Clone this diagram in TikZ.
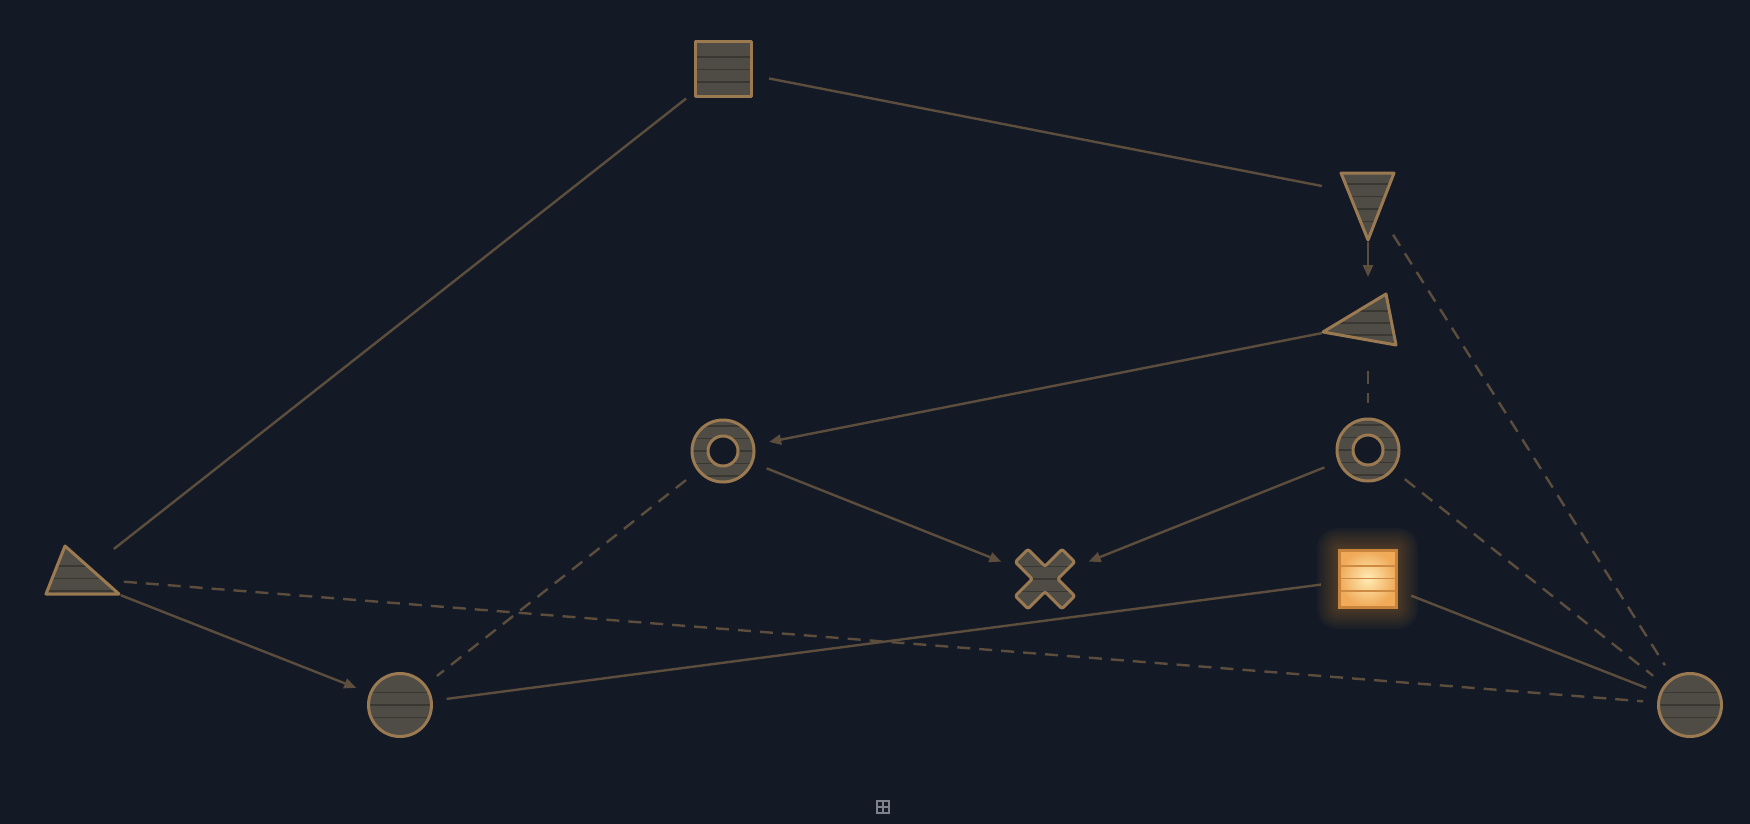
\documentclass[tikz,border=0pt]{standalone}
\usetikzlibrary{arrows.meta}
\definecolor{bg}{HTML}{131A26}
\definecolor{edgec}{HTML}{5C4D3D}
\definecolor{wood}{HTML}{4E4C45}
\definecolor{woodline}{HTML}{393731}
\definecolor{rim}{HTML}{9B7A52}
\definecolor{glowc}{HTML}{F0A040}
\definecolor{glin}{HTML}{FFEBB5}
\definecolor{glout}{HTML}{F0AA58}
\definecolor{glline}{HTML}{CC8A42}
\definecolor{glrim}{HTML}{C8843C}
\definecolor{iconc}{HTML}{7D828C}
\newcommand\planks[4]{\foreach \k in {-#4,...,#4}{\draw[woodline,line width=1.3pt] ({#1-#3},{#2+12.5*\k}) -- ({#1+#3},{#2+12.5*\k});}}
\begin{document}
\begin{tikzpicture}[x=1pt,y=-1pt,
  hit/.style={circle,minimum size=94pt,inner sep=0pt,outer sep=0pt},
  link/.style={draw=edgec,line width=2.4pt},
  dlink/.style={link,dash pattern=on 13pt off 9pt},
  arr/.style={-{Triangle[length=12pt,width=10pt]}},
  rimline/.style={draw=rim,line width=3pt,line join=round}]
\fill[bg] (0,0) rectangle (1750,824);
\useasboundingbox (0,0) rectangle (1750,824);

% hit nodes
\node[hit] (sq) at (723,69.5) {};
\node[hit] (tdown) at (1368,195) {};
\node[hit] (tleft) at (1368,324) {};
\node[hit] (tl) at (77,578) {};
\node[hit] (r1) at (723,451) {};
\node[hit] (r2) at (1368,450) {};
\node[hit] (xx) at (1045,579) {};
\node[hit] (gl) at (1367.5,578.5) {};
\node[hit] (cbl) at (400,705) {};
\node[hit] (cbr) at (1690,705) {};

% connectors
\draw[link] (sq) -- (tl);
\draw[link] (sq) -- (tdown);
\draw[link,arr] (tdown) -- (tleft);
\draw[dlink] (tdown) -- (cbr);
\draw[link,arr] (tleft) -- (r1);
\draw[dlink] (tleft) -- (r2);
\draw[link,arr] (r1) -- (xx);
\draw[link,arr] (r2) -- (xx);
\draw[dlink] (r1) -- (cbl);
\draw[dlink] (r2) -- (cbr);
\draw[link,arr] (tl) -- (cbl);
\draw[dlink] (tl) -- (cbr);
\draw[link] (cbl) -- (gl);
\draw[link] (gl) -- (cbr);

% top square
\begin{scope}
\clip (695,42) rectangle (751,97);
\fill[wood] (695,42) rectangle (751,97);
\planks{723}{69.5}{30}{1}
\end{scope}
\draw[rimline] (695,42) rectangle (751,97);

% down triangle
\begin{scope}
\clip (1341,173) -- (1394,173) -- (1368,240) -- cycle;
\fill[wood] (1335,170) rectangle (1400,245);
\foreach \k in {0,...,3}{\draw[woodline,line width=1.3pt] (1335,{184+12.5*\k}) -- (1400,{184+12.5*\k});}
\end{scope}
\draw[rimline] (1341,173) -- (1394,173) -- (1368,240) -- cycle;

% left-pointing triangle
\begin{scope}
\clip (1323,332) -- (1386,294) -- (1396,345) -- cycle;
\fill[wood] (1320,290) rectangle (1400,350);
\foreach \k in {0,...,2}{\draw[woodline,line width=1.3pt] (1320,{311+12*\k}) -- (1400,{311+12*\k});}
\end{scope}
\draw[rimline] (1323,332) -- (1386,294) -- (1396,345) -- cycle;

% bottom-left triangle
\begin{scope}
\clip (65,546) -- (119,594) -- (46,594) -- cycle;
\fill[wood] (40,540) rectangle (125,600);
\foreach \k in {0,...,2}{\draw[woodline,line width=1.3pt] (40,{566+12.5*\k}) -- (125,{566+12.5*\k});}
\end{scope}
\draw[rimline] (65,546) -- (119,594) -- (46,594) -- cycle;

% rings
\foreach \cx/\cy in {723/451,1368/450}{
\begin{scope}
\clip (\cx,\cy) circle[radius=31];
\fill[wood] (\cx,\cy) circle[radius=31];
\planks{\cx}{\cy}{32}{2}
\end{scope}
\draw[rimline] (\cx,\cy) circle[radius=31];
\fill[bg] (\cx,\cy) circle[radius=15];
\draw[rimline] (\cx,\cy) circle[radius=15];
}

% circles
\foreach \cx/\cy in {400/705,1690/705}{
\begin{scope}
\clip (\cx,\cy) circle[radius=31.5];
\fill[wood] (\cx,\cy) circle[radius=31.5];
\planks{\cx}{\cy}{33}{1}
\end{scope}
\draw[rimline] (\cx,\cy) circle[radius=31.5];
}

% X shape
\begin{scope}
\clip[shift={(1045,579)},rotate=45,rounded corners=2pt]
  (33,9) -- (9,9) -- (9,33) -- (-9,33) -- (-9,9) -- (-33,9) -- (-33,-9) -- (-9,-9) -- (-9,-33) -- (9,-33) -- (9,-9) -- (33,-9) -- cycle;
\fill[wood] (1010,540) rectangle (1080,620);
\planks{1045}{579}{36}{1}
\end{scope}
\draw[rimline,shift={(1045,579)},rotate=45,rounded corners=2pt]
  (33,9) -- (9,9) -- (9,33) -- (-9,33) -- (-9,9) -- (-33,9) -- (-33,-9) -- (-9,-9) -- (-9,-33) -- (9,-33) -- (9,-9) -- (33,-9) -- cycle;

% glowing square
\foreach \i in {1,...,14}{
  \fill[glowc,opacity=0.022,rounded corners={1.5*\i pt}] ({1339-1.6*\i},{550-1.6*\i}) rectangle ({1396+1.6*\i},{607+1.6*\i});
}
\begin{scope}
\clip (1339,550) rectangle (1396,607);
\shade[inner color=glin,outer color=glout] (1339,550) rectangle (1396,607);
\foreach \k in {-1,...,1}{\draw[glline,line width=1.3pt] (1339,{578.5+12.5*\k}) -- (1396,{578.5+12.5*\k});}
\end{scope}
\draw[draw=glrim,line width=3pt] (1339,550) rectangle (1396,607);

% small icon
\draw[iconc,line width=1.2pt] (877,801) rectangle (889,813);
\draw[iconc,line width=1.2pt] (883,801) -- (883,813) (877,807) -- (889,807);
\end{tikzpicture}
\end{document}
